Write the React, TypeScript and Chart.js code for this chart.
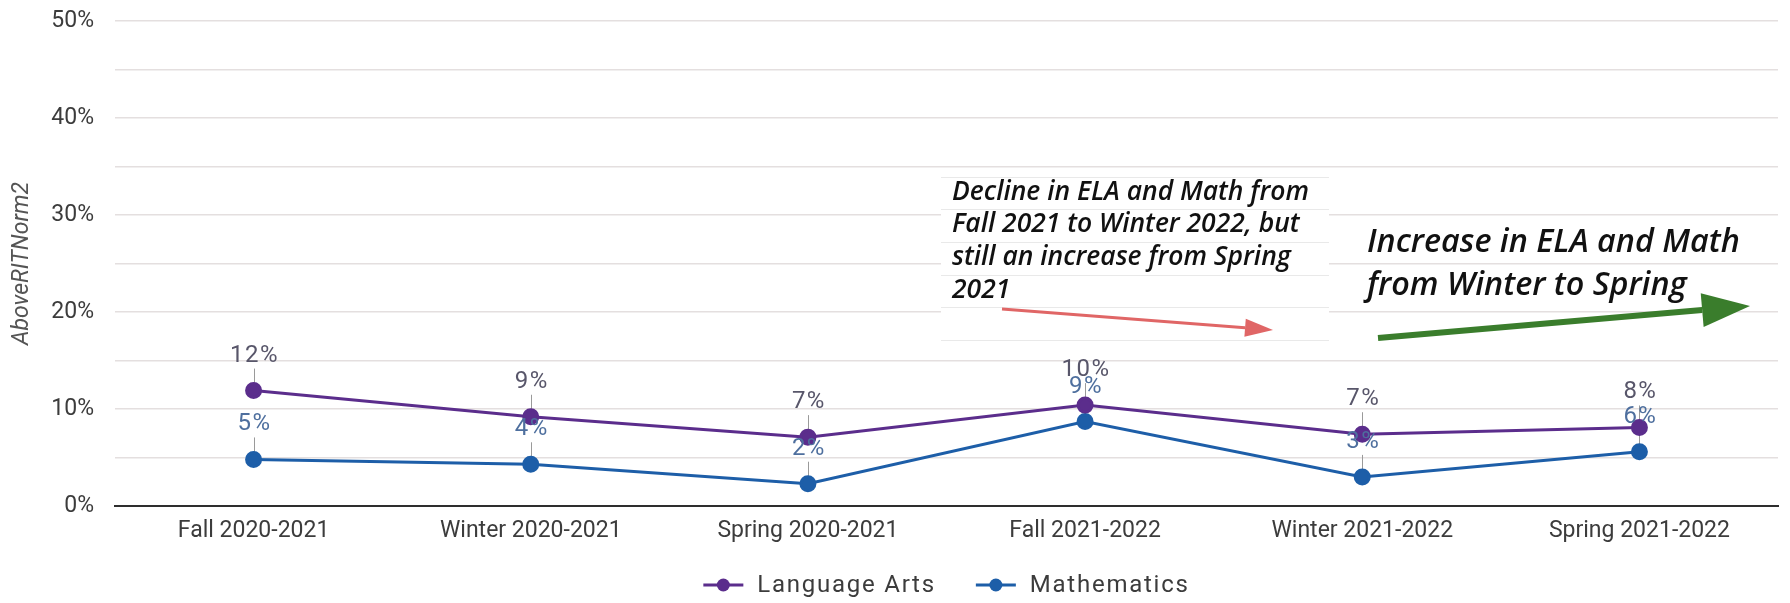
import React, { useEffect, useRef } from 'react';
import { Chart, registerables } from 'chart.js';

Chart.register(...registerables);

const categories = [
  'Fall 2020-2021',
  'Winter 2020-2021',
  'Spring 2020-2021',
  'Fall 2021-2022',
  'Winter 2021-2022',
  'Spring 2021-2022',
];
const languageArts = [11.9, 9.2, 7.1, 10.4, 7.4, 8.1];
const mathematics = [4.8, 4.3, 2.3, 8.7, 3.0, 5.6];
const yTickValues = [0, 10, 20, 30, 40, 50];

const LA_COLOR = '#5b2d8c';
const MATH_COLOR = '#1d5ea8';
const LA_LABEL_COLOR = '#58566a';
const MATH_LABEL_COLOR = '#4e6f9e';
const FONT = 'Roboto';
const HAND_FONT = '"Open Sans"';

const labelColors = [LA_LABEL_COLOR, MATH_LABEL_COLOR];

const dataLabelPlugin = {
  id: 'dataLabels',
  beforeDatasetsDraw(chart: any) {
    const ctx = chart.ctx;
    ctx.save();
    ctx.strokeStyle = '#9a9a9a';
    ctx.lineWidth = 1;
    chart.data.datasets.forEach((ds: any, di: number) => {
      const meta = chart.getDatasetMeta(di);
      meta.data.forEach((pt: any) => {
        ctx.beginPath();
        ctx.moveTo(Math.round(pt.x) + 0.5, pt.y - 22);
        ctx.lineTo(Math.round(pt.x) + 0.5, pt.y);
        ctx.stroke();
      });
    });
    ctx.restore();
  },
  afterDatasetsDraw(chart: any) {
    const ctx = chart.ctx;
    ctx.save();
    ctx.font = `24px ${FONT}`;
    (ctx as any).letterSpacing = '1.5px';
    ctx.textAlign = 'center';
    ctx.textBaseline = 'middle';
    chart.data.datasets.forEach((ds: any, di: number) => {
      const meta = chart.getDatasetMeta(di);
      ctx.fillStyle = labelColors[di];
      meta.data.forEach((pt: any, i: number) => {
        const v = ds.data[i];
        ctx.fillText(Math.round(v) + '%', pt.x + 1, pt.y - 35);
      });
    });
    ctx.restore();
  },
};

function drawArrow(ctx: any, x1: number, y1: number, x2: number, y2: number, w: number, headLen: number, headHalf: number, color: string) {
  const ang = Math.atan2(y2 - y1, x2 - x1);
  const bx = x2 - headLen * Math.cos(ang);
  const by = y2 - headLen * Math.sin(ang);
  ctx.save();
  ctx.strokeStyle = color;
  ctx.fillStyle = color;
  ctx.lineWidth = w;
  ctx.beginPath();
  ctx.moveTo(x1, y1);
  ctx.lineTo(bx, by);
  ctx.stroke();
  ctx.beginPath();
  ctx.moveTo(x2, y2);
  ctx.lineTo(bx + headHalf * Math.sin(ang), by - headHalf * Math.cos(ang));
  ctx.lineTo(bx - headHalf * Math.sin(ang), by + headHalf * Math.cos(ang));
  ctx.closePath();
  ctx.fill();
  ctx.restore();
}

function fitFont(ctx: any, text: string, width: number, style: string) {
  ctx.font = `${style} 100px ${HAND_FONT}`;
  const w = ctx.measureText(text).width;
  return (100 * width) / w;
}

const annotationPlugin = {
  id: 'notes',
  afterDraw(chart: any) {
    const ctx = chart.ctx;
    ctx.save();
    // box 1
    ctx.fillStyle = '#ffffff';
    ctx.fillRect(941, 177, 388, 163);
    ctx.strokeStyle = '#e9e9e9';
    ctx.lineWidth = 1;
    [177, 209, 242, 275, 307, 340].forEach((y) => {
      ctx.beginPath();
      ctx.moveTo(941, y + 0.5);
      ctx.lineTo(1329, y + 0.5);
      ctx.stroke();
    });
    const lines1 = ['Decline in ELA and Math from', 'Fall 2021 to Winter 2022, but', 'still an increase from Spring', '2021'];
    const fs1 = fitFont(ctx, lines1[0], 357, 'italic 600');
    ctx.font = `italic 600 ${fs1}px ${HAND_FONT}`;
    ctx.fillStyle = '#111111';
    ctx.textAlign = 'left';
    ctx.textBaseline = 'alphabetic';
    [200, 232, 265, 298].forEach((y, i) => ctx.fillText(lines1[i], 952, y));
    drawArrow(ctx, 1002, 309, 1273, 330, 3, 28, 9, '#e06666');

    const lines2 = ['Increase in ELA and Math', 'from Winter to Spring'];
    const fs2 = fitFont(ctx, lines2[0], 373, 'italic 600');
    ctx.font = `italic 600 ${fs2}px ${HAND_FONT}`;
    ctx.fillStyle = '#111111';
    ctx.fillText(lines2[0], 1367, 252);
    ctx.fillText(lines2[1], 1367, 295);
    drawArrow(ctx, 1378, 338, 1750, 306, 6, 48, 17, '#3a7d2c');

    // legend
    ctx.font = `24px ${FONT}`;
    (ctx as any).letterSpacing = '1.75px';
    ctx.textBaseline = 'middle';
    const items = chart.data.datasets.map((d: any) => ({ label: d.label, color: d.borderColor }));
    const markW = 40;
    const gapText = 14;
    const gapItem = 40;
    const widths = items.map((it: any) => markW + gapText + ctx.measureText(it.label).width);
    const total = widths.reduce((a: number, b: number) => a + b, 0) + gapItem * (items.length - 1);
    const area = chart.chartArea;
    let x = (area.left + area.right) / 2 - total / 2;
    const y = 585;
    items.forEach((it: any, i: number) => {
      ctx.strokeStyle = it.color;
      ctx.fillStyle = it.color;
      ctx.lineWidth = 3;
      ctx.beginPath();
      ctx.moveTo(x, y);
      ctx.lineTo(x + markW, y);
      ctx.stroke();
      ctx.beginPath();
      ctx.arc(x + markW / 2, y, 6.5, 0, Math.PI * 2);
      ctx.fill();
      ctx.fillStyle = '#3c3c3c';
      ctx.fillText(it.label, x + markW + gapText, y + 1);
      x += widths[i] + gapItem;
    });
    ctx.restore();
  },
};

export default function App() {
  const ref = useRef<HTMLCanvasElement>(null);
  useEffect(() => {
    document.body.style.margin = '0';
    const chart = new Chart(ref.current as HTMLCanvasElement, {
      type: 'line',
      data: {
        labels: categories,
        datasets: [
          {
            label: 'Language Arts',
            data: languageArts,
            borderColor: LA_COLOR,
            backgroundColor: LA_COLOR,
            borderWidth: 3,
            pointRadius: 7,
            pointHoverRadius: 7,
            tension: 0,
          },
          {
            label: 'Mathematics',
            data: mathematics,
            borderColor: MATH_COLOR,
            backgroundColor: MATH_COLOR,
            borderWidth: 3,
            pointRadius: 7,
            pointHoverRadius: 7,
            tension: 0,
          },
        ],
      },
      options: {
        animation: false,
        responsive: false,
        maintainAspectRatio: false,
        layout: { padding: { left: 8, right: 12, top: 21, bottom: 47 } },
        plugins: {
          legend: { display: false },
          tooltip: { enabled: false },
        },
        scales: {
          x: {
            offset: true,
            grid: { display: false, drawTicks: false },
            border: { display: true, color: '#2e2e2e', width: 2 },
            ticks: { color: '#3c3c3c', font: { family: FONT, size: 23 }, padding: 11, maxRotation: 0 },
            afterFit(scale: any) {
              scale.height = 50;
            },
          },
          y: {
            min: 0,
            max: 50,
            grid: {
              color: (c: any) => (c.tick && c.tick.value === 0 ? 'rgba(0,0,0,0)' : '#e4dfdf'),
              lineWidth: 1.5,
              drawTicks: false,
            },
            border: { display: false },
            ticks: {
              stepSize: 5,
              padding: 21,
              color: '#3c3c3c',
              font: { family: FONT, size: 23 },
              callback: (v: any) => (yTickValues.includes(Number(v)) ? v + '%' : ''),
            },
            title: {
              display: true,
              text: 'AboveRITNorm2',
              color: '#555555',
              font: { family: FONT, size: 23, style: 'italic' },
              padding: { top: 0, bottom: 0, y: 0 },
            },
            afterFit(scale: any) {
              scale.width = 107;
              scale.paddingTop = 0;
              scale.paddingBottom = 0;
            },
          },
        },
      },
      plugins: [dataLabelPlugin, annotationPlugin],
    });
    return () => chart.destroy();
  }, []);
  return (
    <div style={{ width: 1790, height: 603, background: '#ffffff' }}>
      <canvas ref={ref} width={1790} height={603} style={{ display: 'block' }} />
    </div>
  );
}
